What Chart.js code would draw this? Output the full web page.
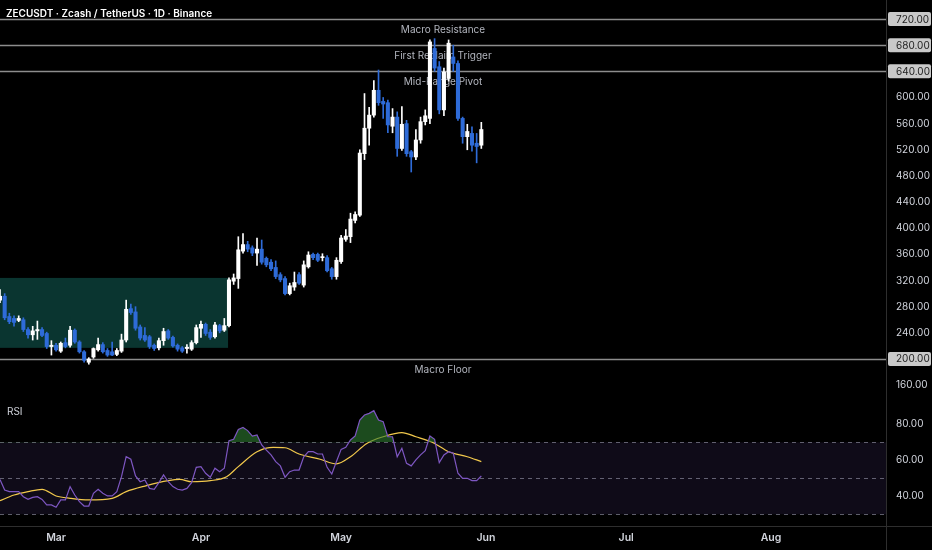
<!DOCTYPE html>
<html>
<head>
<meta charset="utf-8">
<script src="https://cdn.jsdelivr.net/npm/chart.js@4.4.1/dist/chart.umd.min.js"></script>
<style>
  body { margin: 0; background: #000; width: 932px; height: 550px; overflow: hidden; position: relative; font-family: Inter, 'Noto Sans', sans-serif; }
  #title { position: absolute; left: 6px; top: 7px; color: #fff; font-size: 10px; font-weight: 600; z-index: 2; }
  #pricebox { position: absolute; left: 0; top: 0; width: 932px; height: 395px; }
  #rsibox { position: absolute; left: 0; top: 395px; width: 932px; height: 155px; }
</style>
</head>
<body>
<div id="title">ZECUSDT · Zcash / TetherUS · 1D · Binance</div>
<div id="pricebox"><canvas id="priceChart"></canvas></div>
<div id="rsibox"><canvas id="rsiChart"></canvas></div>
<script>
// day 0 = Feb 17, one candle per day
const monthNames = ['Mar', 'Apr', 'May', 'Jun', 'Jul', 'Aug'];
const monthStartDays = [12, 43, 73, 104, 134, 165];

const opens = [290, 296, 265, 262, 259, 260, 245, 237, 243, 245,
  239, 219, 221, 212, 225, 221, 244, 226, 211, 195,
  203, 214, 222, 213, 211, 207, 212, 229, 277, 272,
  249, 236, 234, 221, 217, 228, 243, 233, 221, 217,
  216, 215, 225, 247, 253, 241, 234, 251, 244, 251,
  319, 323, 365, 375, 370, 362, 368, 354, 348, 340,
  329, 323, 300, 310, 329, 313, 341, 360, 360, 355,
  355, 338, 326, 349, 383, 387, 412, 420, 514, 553,
  573, 611, 594, 592, 556, 570, 522, 560, 517, 509,
  535, 563, 568, 675, 647, 581, 629, 662, 652, 568,
  540, 545, 530, 527];
const highs = [306, 300, 270, 266, 266, 263, 248, 250, 258, 248,
  241, 228, 224, 226, 232, 250, 246, 228, 213, 202,
  217, 232, 225, 216, 226, 216, 238, 290, 284, 280,
  252, 248, 236, 223, 232, 247, 245, 235, 223, 219,
  222, 228, 252, 258, 255, 245, 256, 253, 262, 324,
  330, 387, 392, 380, 373, 385, 382, 356, 352, 350,
  332, 326, 316, 333, 332, 350, 364, 362, 362, 361,
  358, 340, 355, 389, 398, 423, 425, 520, 606, 585,
  626, 642, 600, 596, 583, 578, 586, 565, 519, 551,
  570, 581, 688, 690, 655, 645, 688, 680, 656, 570,
  559, 555, 545, 562];
const lows = [286, 260, 254, 250, 257, 242, 232, 229, 230, 234,
  216, 206, 212, 210, 217, 218, 224, 209, 195, 192,
  201, 212, 209, 204, 205, 205, 210, 226, 268, 244,
  229, 227, 216, 213, 214, 221, 230, 218, 212, 210,
  209, 213, 223, 233, 236, 230, 232, 240, 242, 249,
  314, 308, 362, 364, 358, 343, 345, 341, 335, 323,
  318, 298, 298, 305, 314, 310, 339, 352, 349, 350,
  333, 322, 322, 346, 380, 378, 408, 418, 505, 527,
  570, 588, 568, 546, 546, 510, 519, 510, 486, 505,
  530, 558, 560, 640, 575, 572, 625, 640, 565, 530,
  520, 518, 500, 522];
const closes = [296, 263, 257, 256, 262, 245, 237, 243, 245, 236,
  219, 221, 214, 224, 219, 244, 226, 211, 198, 200,
  216, 222, 211, 206, 206, 213, 229, 276, 271, 247,
  232, 229, 219, 216, 228, 242, 232, 220, 215, 212,
  218, 225, 248, 253, 239, 233, 252, 243, 251, 321,
  324, 367, 375, 368, 362, 368, 348, 344, 338, 326,
  321, 300, 312, 317, 316, 344, 359, 355, 351, 356,
  335, 326, 351, 385, 388, 414, 421, 515, 553, 573,
  611, 592, 590, 558, 570, 522, 559, 514, 509, 535,
  563, 572, 685, 645, 581, 639, 683, 652, 568, 540,
  548, 527, 525, 551];

const priceTicks = [160, 200, 240, 280, 320, 360, 400, 440, 480, 520, 560, 600, 640, 680, 720];
const levelPrices = [720, 680, 640, 200];
const levelNames = ['Macro Resistance', 'First Reclaim Trigger', 'Mid-Range Pivot', 'Macro Floor'];
const boxStartDay = 0, boxEndDay = 48.8, boxLow = 217, boxHigh = 324;

const rsiValues = [49.4, 43.5, 42.6, 42.6, 42.6, 39.8, 38.3, 39.4, 39.8, 38.3,
  35.2, 35.2, 33.9, 38, 38, 45.4, 40.7, 37, 34.6, 34.6,
  41.7, 43.9, 41.7, 40.2, 40.2, 42.6, 50.9, 62, 60.6, 51.3,
  48.1, 49.1, 44.4, 43.9, 47.6, 51.9, 48.1, 45.4, 43.9, 43.5,
  44.4, 47.6, 56.1, 56.5, 52.8, 50.6, 55.6, 53.7, 55.6, 70.9,
  71.7, 77.2, 78.3, 76.5, 73.5, 74.1, 68.5, 65.7, 63, 59.3,
  56.9, 50.6, 53.7, 54.6, 54.6, 62, 64.8, 64.8, 63.5, 63.5,
  56.1, 52.4, 59.3, 66.1, 67.2, 71.3, 73.5, 82.4, 85.2, 86.1,
  87.6, 82.4, 81.5, 73.1, 73.1, 62, 66.7, 58.3, 56.9, 60.2,
  63, 65.4, 73.5, 71.7, 58.7, 63, 64.8, 63.9, 52.8, 50,
  50, 48.7, 48.7, 51.3];
const rsiMaDays = [0, 3, 6, 9, 12, 15, 19, 24, 27, 31, 36, 38.5, 41, 45, 48.5, 51, 55, 58.5, 61, 64, 68.5, 72, 75, 78.5, 82, 86, 89, 92.7, 96, 100, 103];
const rsiMaValues = [37.6, 40.7, 42.6, 43.9, 40.2, 38.9, 38, 38.9, 42.6, 45.7, 48.7, 49.4, 48.1, 48.7, 50.9, 56.5, 64.8, 67.2, 67, 63.5, 60.6, 58, 62, 69.4, 73.1, 75.4, 73.1, 69.8, 64.8, 62, 59.3];
const rsiTicks = [40, 60, 80];
const rsiLevels = [70, 50, 30];

const FONT = 'Inter, "Noto Sans", sans-serif';
const upColor = '#ffffff';
const downColor = '#2e6bd8';
const days = opens.map((o, i) => i);
const candleColors = opens.map((o, i) => closes[i] >= o ? upColor : downColor);
const X_MIN = 0, X_MAX = 189.6;

const priceDecor = {
  id: 'priceDecor',
  beforeDatasetsDraw(chart) {
    const { ctx, chartArea: a, scales: { x, y } } = chart;
    ctx.save();
    // consolidation box
    const bx0 = x.getPixelForValue(boxStartDay), bx1 = x.getPixelForValue(boxEndDay);
    const by0 = y.getPixelForValue(boxHigh), by1 = y.getPixelForValue(boxLow);
    ctx.fillStyle = '#0a3530';
    ctx.fillRect(bx0, by0, bx1 - bx0, by1 - by0);
    // horizontal levels with their names
    levelPrices.forEach((p, k) => {
      const py = Math.round(y.getPixelForValue(p)) + 0.5;
      ctx.strokeStyle = '#8d8d8d';
      ctx.lineWidth = 1.5;
      ctx.beginPath();
      ctx.moveTo(a.left, py);
      ctx.lineTo(a.right, py);
      ctx.stroke();
      ctx.fillStyle = '#b2b5be';
      ctx.font = '10px ' + FONT;
      ctx.textAlign = 'center';
      ctx.textBaseline = 'middle';
      ctx.fillText(levelNames[k], (a.left + a.right) / 2, py + 10);
    });
    ctx.restore();
  },
  afterDraw(chart) {
    const { ctx, chartArea: a, scales: { y } } = chart;
    ctx.save();
    // price badges on the axis
    levelPrices.forEach(p => {
      const py = y.getPixelForValue(p);
      ctx.fillStyle = '#c9c9c9';
      ctx.beginPath();
      ctx.roundRect(a.right + 2, py - 7, 43, 14, 2);
      ctx.fill();
      ctx.fillStyle = '#222';
      ctx.font = '10px ' + FONT;
      ctx.textAlign = 'left';
      ctx.textBaseline = 'middle';
      ctx.fillText(p.toFixed(2), a.right + 10, py + 0.5);
    });
    ctx.strokeStyle = '#2e2e2e';
    ctx.lineWidth = 1;
    ctx.beginPath();
    ctx.moveTo(a.right + 0.5, 0);
    ctx.lineTo(a.right + 0.5, chart.height);
    ctx.stroke();
    ctx.restore();
  }
};

new Chart(document.getElementById('priceChart'), {
  type: 'bar',
  data: {
    datasets: [
      {
        label: 'wick',
        data: days.map(i => ({ x: i, y: [lows[i], highs[i]] })),
        backgroundColor: candleColors,
        barThickness: 1,
        grouped: false,
        order: 2
      },
      {
        label: 'body',
        data: days.map(i => ({ x: i, y: [opens[i], closes[i]] })),
        backgroundColor: candleColors,
        barThickness: 3.4,
        minBarLength: 1,
        grouped: false,
        order: 1
      }
    ]
  },
  options: {
    responsive: true,
    maintainAspectRatio: false,
    animation: false,
    layout: { padding: 0 },
    plugins: { legend: { display: false }, tooltip: { enabled: false } },
    scales: {
      x: { type: 'linear', min: X_MIN, max: X_MAX, offset: false, display: false },
      y: {
        position: 'right',
        min: 144.9,
        max: 749.1,
        grid: { display: false, drawTicks: false },
        border: { display: false },
        afterBuildTicks: s => { s.ticks = priceTicks.map(v => ({ value: v })); },
        afterFit: s => { s.width = 46; s.paddingTop = 0; s.paddingBottom = 0; },
        ticks: { color: '#d1d4dc', font: { size: 10, family: FONT }, padding: 10, autoSkip: false, callback: v => v.toFixed(2) }
      }
    }
  },
  plugins: [priceDecor]
});

const rsiDecor = {
  id: 'rsiDecor',
  beforeDatasetsDraw(chart) {
    const { ctx, chartArea: a, scales: { y } } = chart;
    ctx.save();
    const top = y.getPixelForValue(70), bottom = y.getPixelForValue(30);
    ctx.fillStyle = 'rgba(126, 87, 194, 0.12)';
    ctx.fillRect(a.left, top, a.right - a.left, bottom - top);
    ctx.strokeStyle = 'rgba(170, 170, 190, 0.55)';
    ctx.lineWidth = 1;
    ctx.setLineDash([4, 4]);
    rsiLevels.forEach(v => {
      const py = Math.round(y.getPixelForValue(v)) + 0.5;
      ctx.beginPath();
      ctx.moveTo(a.left, py);
      ctx.lineTo(a.right, py);
      ctx.stroke();
    });
    ctx.restore();
  },
  afterDraw(chart) {
    const { ctx, chartArea: a } = chart;
    ctx.save();
    ctx.fillStyle = '#d1d4dc';
    ctx.font = '10px ' + FONT;
    ctx.textAlign = 'left';
    ctx.textBaseline = 'middle';
    ctx.fillText('RSI', 7, 17);
    ctx.strokeStyle = '#2e2e2e';
    ctx.lineWidth = 1;
    ctx.beginPath();
    ctx.moveTo(a.right + 0.5, 0);
    ctx.lineTo(a.right + 0.5, chart.height);
    ctx.moveTo(0, a.bottom + 0.5);
    ctx.lineTo(chart.width, a.bottom + 0.5);
    ctx.stroke();
    ctx.restore();
  }
};

new Chart(document.getElementById('rsiChart'), {
  type: 'line',
  data: {
    datasets: [
      {
        label: 'RSI',
        data: days.map(i => ({ x: i, y: rsiValues[i] })),
        borderColor: '#7e57c2',
        borderWidth: 1.2,
        pointRadius: 0,
        tension: 0,
        fill: { target: { value: 70 }, above: 'rgba(46, 125, 50, 0.6)', below: 'rgba(0, 0, 0, 0)' }
      },
      {
        label: 'RSI MA',
        data: rsiMaDays.map((d, k) => ({ x: d, y: rsiMaValues[k] })),
        borderColor: '#f2c94c',
        borderWidth: 1.2,
        pointRadius: 0,
        cubicInterpolationMode: 'monotone',
        fill: false
      }
    ]
  },
  options: {
    responsive: true,
    maintainAspectRatio: false,
    animation: false,
    layout: { padding: 0 },
    plugins: { legend: { display: false }, tooltip: { enabled: false } },
    scales: {
      x: {
        type: 'linear',
        min: X_MIN,
        max: X_MAX,
        offset: false,
        grid: { display: false, drawTicks: false },
        border: { display: false },
        afterBuildTicks: s => { s.ticks = monthStartDays.map(v => ({ value: v })); },
        afterFit: s => { s.height = 24; s.paddingLeft = 0; s.paddingRight = 0; },
        ticks: {
          color: '#d1d4dc', font: { size: 10.5, weight: '600', family: FONT }, padding: 6, autoSkip: false, maxRotation: 0,
          callback: v => monthNames[monthStartDays.indexOf(v)]
        }
      },
      y: {
        position: 'right',
        min: 23.5,
        max: 96.3,
        grid: { display: false, drawTicks: false },
        border: { display: false },
        afterBuildTicks: s => { s.ticks = rsiTicks.map(v => ({ value: v })); },
        afterFit: s => { s.width = 46; s.paddingTop = 0; s.paddingBottom = 0; },
        ticks: { color: '#d1d4dc', font: { size: 10, family: FONT }, padding: 10, autoSkip: false, callback: v => v.toFixed(2) }
      }
    }
  },
  plugins: [rsiDecor]
});
</script>
</body>
</html>
